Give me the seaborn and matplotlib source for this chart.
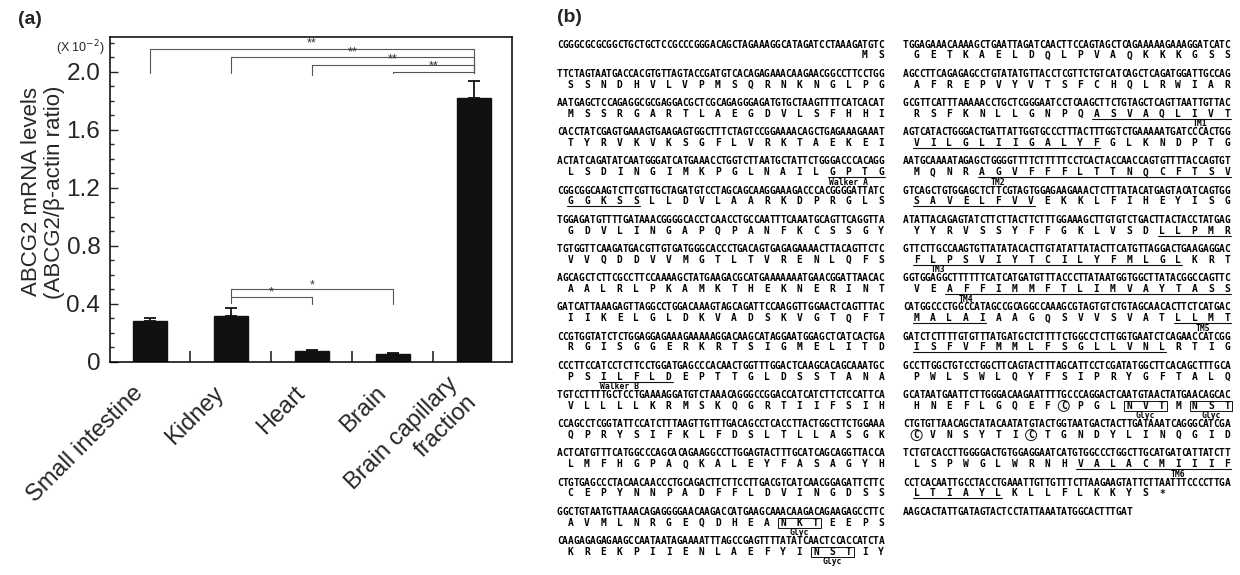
import numpy as np
import pandas as pd
import matplotlib
matplotlib.use("Agg")
import matplotlib.pyplot as plt
import matplotlib.transforms as mtransforms
import seaborn as sns
from matplotlib.patches import Rectangle, Ellipse
from matplotlib.ticker import MultipleLocator, FixedLocator

# ---------------- panel (a) data ----------------
tissues = ["Small intestine", "Kidney", "Heart", "Brain", "Brain capillary\nfraction"]
levels = [0.28, 0.32, 0.075, 0.055, 1.82]
errors = [0.02, 0.05, 0.006, 0.008, 0.12]
y_ticks = [0, 0.4, 0.8, 1.2, 1.6, 2.0]
y_tick_labels = ["0", "0.4", "0.8", "1.2", "1.6", "2.0"]

# significance brackets: (left bar, right bar, label)
sig_pairs = [(0, 4, "**"), (1, 4, "**"), (2, 4, "**"), (3, 4, "**"), (1, 2, "*"), (1, 3, "*")]
sig_tops = [2.16, 2.10, 2.05, 2.00, 0.45, 0.50]
sig_left_feet = [1.99, 1.99, 1.98, 1.99, 0.41, 0.45]
sig_right_feet = [1.99, 1.99, 1.99, 1.99, 0.40, 0.40]

# ---------------- panel (b) data ----------------
nt_left = [
    "CGGGCGCGCGGCTGCTGCTCCGCCCGGGACAGCTAGAAAGGCATAGATCCTAAAGATGTC",
    "TTCTAGTAATGACCACGTGTTAGTACCGATGTCACAGAGAAACAAGAACGGCCTTCCTGG",
    "AATGAGCTCCAGAGGCGCGAGGACGCTCGCAGAGGGAGATGTGCTAAGTTTTCATCACAT",
    "CACCTATCGAGTGAAAGTGAAGAGTGGCTTTCTAGTCCGGAAAACAGCTGAGAAAGAAAT",
    "ACTATCAGATATCAATGGGATCATGAAACCTGGTCTTAATGCTATTCTGGGACCCACAGG",
    "CGGCGGCAAGTCTTCGTTGCTAGATGTCCTAGCAGCAAGGAAAGACCCACGGGGATTATC",
    "TGGAGATGTTTTGATAAACGGGGCACCTCAACCTGCCAATTTCAAATGCAGTTCAGGTTA",
    "TGTGGTTCAAGATGACGTTGTGATGGGCACCCTGACAGTGAGAGAAAACTTACAGTTCTC",
    "AGCAGCTCTTCGCCTTCCAAAAGCTATGAAGACGCATGAAAAAAATGAACGGATTAACAC",
    "GATCATTAAAGAGTTAGGCCTGGACAAAGTAGCAGATTCCAAGGTTGGAACTCAGTTTAC",
    "CCGTGGTATCTCTGGAGGAGAAAGAAAAAGGACAAGCATAGGAATGGAGCTCATCACTGA",
    "CCCTTCCATCCTCTTCCTGGATGAGCCCACAACTGGTTTGGACTCAAGCACAGCAAATGC",
    "TGTCCTTTTGCTCCTGAAAAGGATGTCTAAACAGGGCCGGACCATCATCTTCTCCATTCA",
    "CCAGCCTCGGTATTCCATCTTTAAGTTGTTTGACAGCCTCACCTTACTGGCTTCTGGAAA",
    "ACTCATGTTTCATGGCCCAGCACAGAAGGCCTTGGAGTACTTTGCATCAGCAGGTTACCA",
    "CTGTGAGCCCTACAACAACCCTGCAGACTTCTTCCTTGACGTCATCAACGGAGATTCTTC",
    "GGCTGTAATGTTAAACAGAGGGGAACAAGACCATGAAGCAAACAAGACAGAAGAGCCTTC",
    "CAAGAGAGAGAAGCCAATAATAGAAAATTTAGCCGAGTTTTATATCAACTCCACCATCTA",
]
aa_left = [
    "                  MS",
    "SSNDHVLVPMSQRNKNGLPG",
    "MSSRGARTLAEGDVLSFHHI",
    "TYRVKVKSGFLVRKTAEKEI",
    "LSDINGIMKPGLNAILGPTG",
    "GGKSSLLDVLAARKDPRGLS",
    "GDVLINGAPQPANFKCSSGY",
    "VVQDDVVMGTLTVRENLQFS",
    "AALRLPKAMKTHEKNERINT",
    "IIKELGLDKVADSKVGTQFT",
    "RGISGGERKRTSIGMELITD",
    "PSILFLDEPTTGLDSSTANA",
    "VLLLLKRMSKQGRTIIFSIH",
    "QPRYSIFKLFDSLTLLASGK",
    "LMFHGPAQKALEYFASAGYH",
    "CEPYNNPADFFLDVINGDSS",
    "AVMLNRGEQDHEANKTEEPS",
    "KREKPIIENLAEFYINSTIY",
]
nt_right = [
    "TGGAGAAACAAAAGCTGAATTAGATCAACTTCCAGTAGCTCAGAAAAAGAAAGGATCATC",
    "AGCCTTCAGAGAGCCTGTATATGTTACCTCGTTCTGTCATCAGCTCAGATGGATTGCCAG",
    "GCGTTCATTTAAAAACCTGCTCGGGAATCCTCAAGCTTCTGTAGCTCAGTTAATTGTTAC",
    "AGTCATACTGGGACTGATTATTGGTGCCCTTTACTTTGGTCTGAAAAATGATCCCACTGG",
    "AATGCAAAATAGAGCTGGGGTTTTCTTTTTCCTCACTACCAACCAGTGTTTTACCAGTGT",
    "GTCAGCTGTGGAGCTCTTCGTAGTGGAGAAGAAACTCTTTATACATGAGTACATCAGTGG",
    "ATATTACAGAGTATCTTCTTACTTCTTTGGAAAGCTTGTGTCTGACTTACTACCTATGAG",
    "GTTCTTGCCAAGTGTTATATACACTTGTATATTATACTTCATGTTAGGACTGAAGAGGAC",
    "GGTGGAGGCTTTTTTCATCATGATGTTTACCCTTATAATGGTGGCTTATACGGCCAGTTC",
    "CATGGCCCTGGCCATAGCCGCAGGCCAAAGCGTAGTGTCTGTAGCAACACTTCTCATGAC",
    "GATCTCTTTTGTGTTTATGATGCTCTTTTCTGGCCTCTTGGTGAATCTCAGAACCATCGG",
    "GCCTTGGCTGTCCTGGCTTCAGTACTTTAGCATTCCTCGATATGGCTTCACAGCTTTGCA",
    "GCATAATGAATTCTTGGGACAAGAATTTTGCCCAGGACTCAATGTAACTATGAACAGCAC",
    "CTGTGTTAACAGCTATACAATATGTACTGGTAATGACTACTTGATAAATCAGGGCATCGA",
    "TCTGTCACCTTGGGGACTGTGGAGGAATCATGTGGCCCTGGCTTGCATGATCATTATCTT",
    "CCTCACAATTGCCTACCTGAAATTGTTGTTTCTTAAGAAGTATTCTTAATTTCCCCTTGA",
    "AAGCACTATTGATAGTACTCCTATTAAATATGGCACTTTGAT",
]
aa_right = [
    "GETKAELDQLPVAQKKKGSS",
    "AFREPVYVTSFCHQLRWIAR",
    "RSFKNLLGNPQASVAQLIVT",
    "VILGLIIGALYFGLKNDPTG",
    "MQNRAGVFFFLTTNQCFTSV",
    "SAVELFVVEKKLFIHEYISG",
    "YYRVSSYFFGKLVSDLLPMR",
    "FLPSVIYTCILYFMLGLKRT",
    "VEAFFIMMFTLIMVAYTASS",
    "MALAIAAGQSVVSVATLLMT",
    "ISFVFMMLFSGLLVNLRTIG",
    "PWLSWLQYFSIPRYGFTALQ",
    "HNEFLGQEFCPGLNVTMNST",
    "CVNSYTICTGNDYLINQGID",
    "LSPWGLWRNHVALACMIIIF",
    "LTIAYLKLLFLKKYS*    ",
    "",
]
# sequence features: (column, row, first residue, last residue)
underlines = [("L", 4, 16, 19), ("L", 5, 0, 4), ("L", 11, 2, 6),
              ("R", 2, 11, 19), ("R", 3, 0, 11), ("R", 4, 4, 19), ("R", 5, 0, 7),
              ("R", 6, 15, 19), ("R", 7, 0, 16), ("R", 8, 2, 19), ("R", 9, 0, 4),
              ("R", 9, 16, 19), ("R", 10, 0, 15), ("R", 14, 10, 19), ("R", 15, 0, 5)]
feature_labels = [("L", 4, 17, "Walker A"), ("L", 11, 3, "Walker B"),
                  ("L", 16, 14, "Glyc"), ("L", 17, 16, "Glyc"),
                  ("R", 2, 17.3, "TM1"), ("R", 4, 5, "TM2"), ("R", 7, 1.3, "TM3"),
                  ("R", 8, 3, "TM4"), ("R", 9, 17.5, "TM5"), ("R", 12, 14, "Glyc"),
                  ("R", 12, 18, "Glyc"), ("R", 14, 16, "TM6")]
glyc_boxes = [("L", 16, 13, 15), ("L", 17, 15, 17), ("R", 12, 13, 15), ("R", 12, 17, 19)]
cys_circles = [("R", 12, 9), ("R", 13, 0), ("R", 13, 7)]

# ---------------- figure ----------------
W, H = 1240, 575
sns.set_style("ticks")
plt.rcParams["font.family"] = ["Liberation Sans", "DejaVu Sans"]
fig = plt.figure(figsize=(W / 100, H / 100), dpi=100)

ax = fig.add_axes([110 / W, 1 - 362 / H, 402 / W, 325 / H])
df = pd.DataFrame({"tissue": tissues, "level": levels})
sns.barplot(data=df, x="tissue", y="level", order=tissues, color="#111111",
            saturation=1, width=0.42, errorbar=None, ax=ax, zorder=2)
for p in ax.patches:
    p.set_edgecolor("#111111")
ax.errorbar(np.arange(len(tissues)), levels,
            yerr=[np.zeros(len(errors)), errors], fmt="none",
            ecolor="#111111", elinewidth=1.3, capsize=4, capthick=1.3, zorder=3)

ax.set_xlim(-0.49, 4.47)
ax.set_ylim(0, 2.24)
ax.set_yticks(y_ticks)
ax.set_yticklabels(y_tick_labels, fontsize=17.5)
ax.yaxis.set_minor_locator(MultipleLocator(0.1))
ax.tick_params(axis="y", which="major", direction="in", length=6, width=1, pad=7)
ax.tick_params(axis="y", which="minor", direction="in", length=3, width=1)
ax.xaxis.set_minor_locator(FixedLocator([0.5, 1.5, 2.5, 3.5]))
ax.tick_params(axis="x", which="major", length=0, pad=20)
ax.tick_params(axis="x", which="minor", direction="in", length=8, width=1.2)
ax.set_xticks(range(len(tissues)))
ax.set_xticklabels(tissues, rotation=45, ha="right", va="center",
                   rotation_mode="anchor", fontsize=17, multialignment="right")
shift = mtransforms.ScaledTranslation(-0.1, 0, fig.dpi_scale_trans)
for t in ax.get_xticklabels():
    t.set_transform(t.get_transform() + shift)
ax.set_xlabel("")
ax.set_ylabel("")
for s in ax.spines.values():
    s.set_visible(True)
    s.set_linewidth(1.1)
    s.set_color("black")

for (i, j, lab), top, lf, rf in zip(sig_pairs, sig_tops, sig_left_feet, sig_right_feet):
    ax.plot([i, i, j, j], [lf, top, top, rf], color="#555555", lw=0.8, zorder=1)
    off = 0.035 if top > 1 else 0.03
    ax.text((i + j) / 2, top + off, lab, ha="center", va="center",
            fontsize=9, color="#333333")

fig.text(43 / W, 1 - 192 / H, "ABCG2 mRNA levels\n(ABCG2/\u03b2-actin ratio)",
         rotation=90, ha="center", va="center", fontsize=16, linespacing=1.15)
fig.text(80 / W, 1 - 48 / H, r"(X 10$^{-2}$)", ha="center", va="center", fontsize=9)

# ---------------- panel (b): sequence ----------------
axb = fig.add_axes([0, 0, 1, 1], zorder=5)
axb.set_xlim(0, W)
axb.set_ylim(H, 0)
axb.axis("off")
axb.patch.set_alpha(0)

axb.text(18, 19, "(a)", fontsize=14, fontweight="bold", ha="left", va="center")
axb.text(557, 17, "(b)", fontsize=14, fontweight="bold", ha="left", va="center")

CW = 5.45
ROW0, ROWH = 44.5, 29.2
AA_DY, UL_DY, LAB_DY = 11.0, 15.8, 21.0
col_x0 = {"L": 557.0, "R": 903.0}
seq_font = dict(family="DejaVu Sans Mono", fontweight="bold", fontsize=6.9,
                ha="center", va="center", color="black")


def aa_x(col, k):
    return col_x0[col] + (3 * k + 2.5) * CW


def row_y(r):
    return ROW0 + r * ROWH


for col, nts, aas in (("L", nt_left, aa_left), ("R", nt_right, aa_right)):
    for r, (nt, aa) in enumerate(zip(nts, aas)):
        y = row_y(r)
        for i, c in enumerate(nt):
            axb.text(col_x0[col] + (i + 0.5) * CW, y, c, **seq_font)
        for k, c in enumerate(aa):
            if c != " ":
                axb.text(aa_x(col, k), y + AA_DY, c, **seq_font)

for col, r, a, b in underlines:
    y = row_y(r) + UL_DY
    axb.plot([aa_x(col, a) - 4, aa_x(col, b) + 4], [y, y], color="#111111", lw=0.8)

for col, r, k, lab in feature_labels:
    axb.text(aa_x(col, k), row_y(r) + LAB_DY, lab, family="DejaVu Sans Mono",
             fontweight="bold", fontsize=5.8, ha="center", va="center", color="black")

for col, r, a, b in glyc_boxes:
    x1 = aa_x(col, a) - 5
    x2 = aa_x(col, b) + 5
    y = row_y(r) + AA_DY
    axb.add_patch(Rectangle((x1, y - 5), x2 - x1, 10, fill=False, lw=0.7,
                            edgecolor="#111111"))

for col, r, k in cys_circles:
    axb.add_patch(Ellipse((aa_x(col, k), row_y(r) + AA_DY), 11, 11, fill=False,
                          lw=0.7, edgecolor="#111111"))

fig.savefig("out.png", dpi=100)
